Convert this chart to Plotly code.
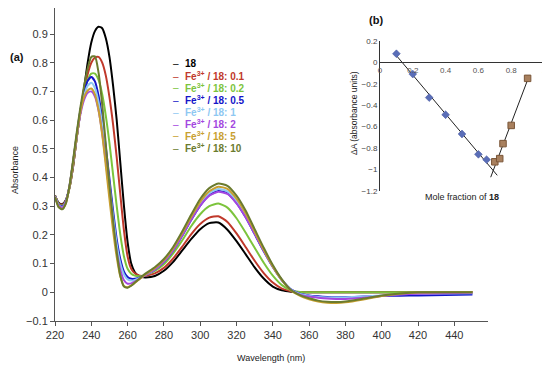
import numpy as np
import plotly.graph_objects as go

# ---------------- data: main spectra ----------------
wavelength = [220, 222, 224, 226, 228, 230, 232, 234, 236, 238, 240, 242, 244, 246, 248, 250,
              252, 254, 256, 258, 260, 262, 264, 266, 268, 270, 275, 280, 285, 290, 295, 300,
              305, 310, 315, 320, 325, 330, 335, 340, 345, 350, 355, 360, 365, 370, 375, 380,
              390, 400, 410, 420, 435, 450]

abs_18 = [0.338, 0.312, 0.307, 0.322, 0.365, 0.44, 0.54, 0.63, 0.71, 0.80, 0.87, 0.91, 0.925, 0.92, 0.885, 0.82,
          0.72, 0.60, 0.45, 0.30, 0.175, 0.10, 0.07, 0.058, 0.053, 0.052, 0.057, 0.075, 0.105, 0.145, 0.185, 0.22,
          0.241, 0.243, 0.218, 0.178, 0.133, 0.087, 0.048, 0.02, 0.007, 0.002, 0.0, 0.0, 0.0, 0.0, 0.0, 0.0,
          0.0, 0.0, 0.0, 0.0, 0.0, 0.0]
abs_01 = [0.337, 0.31, 0.305, 0.32, 0.365, 0.44, 0.54, 0.63, 0.70, 0.76, 0.80, 0.818, 0.82, 0.80, 0.755, 0.68,
          0.585, 0.47, 0.34, 0.215, 0.125, 0.082, 0.066, 0.059, 0.057, 0.058, 0.066, 0.085, 0.117, 0.158, 0.202, 0.238,
          0.26, 0.265, 0.245, 0.205, 0.158, 0.11, 0.067, 0.034, 0.013, 0.004, 0.0, 0.0, 0.0, 0.0, 0.0, 0.0,
          0.0, 0.0, 0.0, 0.0, 0.0, 0.0]
abs_02 = [0.336, 0.308, 0.302, 0.318, 0.365, 0.445, 0.54, 0.63, 0.695, 0.74, 0.762, 0.762, 0.74, 0.69, 0.615, 0.52,
          0.41, 0.30, 0.20, 0.125, 0.082, 0.065, 0.058, 0.056, 0.057, 0.061, 0.075, 0.098, 0.135, 0.18, 0.23, 0.272,
          0.30, 0.309, 0.295, 0.258, 0.208, 0.155, 0.103, 0.058, 0.025, 0.007, 0.001, 0.0, 0.0, 0.0, 0.0, 0.0,
          0.0, 0.0, 0.0, 0.0, 0.0, 0.0]
abs_05 = [0.335, 0.305, 0.299, 0.318, 0.37, 0.455, 0.55, 0.635, 0.695, 0.737, 0.75, 0.735, 0.685, 0.605, 0.505, 0.395,
          0.285, 0.185, 0.115, 0.072, 0.053, 0.047, 0.047, 0.05, 0.055, 0.061, 0.079, 0.106, 0.145, 0.196, 0.252, 0.302,
          0.338, 0.353, 0.345, 0.312, 0.262, 0.203, 0.143, 0.088, 0.042, 0.01, -0.005, -0.011, -0.014, -0.016, -0.017, -0.017,
          -0.015, -0.013, -0.012, -0.011, -0.009, -0.008]
abs_1 = [0.335, 0.304, 0.297, 0.316, 0.37, 0.455, 0.548, 0.63, 0.685, 0.72, 0.73, 0.712, 0.663, 0.585, 0.485, 0.375,
         0.265, 0.168, 0.10, 0.062, 0.045, 0.041, 0.043, 0.048, 0.054, 0.061, 0.08, 0.108, 0.148, 0.20, 0.257, 0.308,
         0.345, 0.36, 0.352, 0.318, 0.268, 0.208, 0.147, 0.09, 0.043, 0.01, -0.006, -0.012, -0.016, -0.018, -0.018, -0.018,
         -0.015, -0.011, -0.007, -0.005, -0.004, -0.003]
abs_2 = [0.334, 0.302, 0.295, 0.315, 0.37, 0.455, 0.545, 0.62, 0.67, 0.695, 0.70, 0.682, 0.633, 0.555, 0.455, 0.345,
         0.235, 0.142, 0.078, 0.042, 0.03, 0.031, 0.037, 0.045, 0.053, 0.061, 0.08, 0.107, 0.146, 0.197, 0.252, 0.302,
         0.337, 0.35, 0.343, 0.31, 0.262, 0.204, 0.145, 0.09, 0.043, 0.008, -0.008, -0.015, -0.019, -0.022, -0.023, -0.023,
         -0.019, -0.013, -0.008, -0.005, -0.003, -0.002]
abs_5 = [0.333, 0.298, 0.29, 0.31, 0.368, 0.455, 0.548, 0.628, 0.68, 0.703, 0.71, 0.69, 0.635, 0.55, 0.44, 0.325,
         0.215, 0.123, 0.055, 0.022, 0.018, 0.024, 0.033, 0.043, 0.053, 0.063, 0.084, 0.112, 0.152, 0.205, 0.262, 0.315,
         0.352, 0.368, 0.36, 0.326, 0.275, 0.212, 0.148, 0.09, 0.042, 0.006, -0.012, -0.024, -0.032, -0.036, -0.037, -0.035,
         -0.025, -0.013, -0.005, -0.001, 0.0, 0.0]
abs_10 = [0.332, 0.297, 0.289, 0.31, 0.372, 0.462, 0.558, 0.645, 0.718, 0.78, 0.82, 0.822, 0.765, 0.655, 0.515, 0.375,
          0.25, 0.14, 0.058, 0.02, 0.016, 0.023, 0.034, 0.045, 0.056, 0.066, 0.087, 0.116, 0.157, 0.211, 0.27, 0.325,
          0.363, 0.379, 0.371, 0.337, 0.285, 0.22, 0.155, 0.095, 0.045, 0.008, -0.01, -0.021, -0.029, -0.033, -0.034, -0.032,
          -0.022, -0.011, -0.004, 0.0, 0.0, 0.0]

series_labels = ["18", "Fe<sup>3+</sup> / 18: 0.1", "Fe<sup>3+</sup> / 18: 0.2", "Fe<sup>3+</sup> / 18: 0.5",
                 "Fe<sup>3+</sup> / 18: 1", "Fe<sup>3+</sup> / 18: 2", "Fe<sup>3+</sup> / 18: 5",
                 "Fe<sup>3+</sup> / 18: 10"]
series_values = [abs_18, abs_01, abs_02, abs_05, abs_1, abs_2, abs_5, abs_10]
series_colors = ["#000000", "#C0392B", "#7CC43C", "#1414C8", "#8EC8F2", "#A347E0", "#C8A030", "#6B7B2E"]

main_xticks = [220, 240, 260, 280, 300, 320, 340, 360, 380, 400, 420, 440]
main_yticks = [-0.1, 0, 0.1, 0.2, 0.3, 0.4, 0.5, 0.6, 0.7, 0.8, 0.9]

# ---------------- data: inset (Job plot) ----------------
job_x_left = [0.1, 0.2, 0.3, 0.4, 0.5, 0.6, 0.65]
job_y_left = [0.08, -0.11, -0.33, -0.49, -0.67, -0.86, -0.91]
job_x_right = [0.70, 0.73, 0.75, 0.80, 0.90]
job_y_right = [-0.93, -0.90, -0.76, -0.59, -0.15]
trend_left_x = [0.1, 0.715]
trend_right_x = [0.675, 0.9]
inset_xticks = [0, 0.2, 0.4, 0.6, 0.8, 1]
inset_yticks = [0.2, 0, -0.2, -0.4, -0.6, -0.8, -1, -1.2]

# the page body has an 8px margin, so the figure is drawn 8px in from the top-left
OFF = 8
W, H = 550 - OFF, 367 - OFF
def px(x):
    return (x - OFF) / W
def py(y):
    return 1 - (y - OFF) / H

FONT = "Liberation Sans, Arial, sans-serif"

fig = go.Figure()

for vals, col, lab in zip(series_values, series_colors, series_labels):
    fig.add_trace(go.Scatter(x=wavelength, y=vals, mode="lines", name=lab,
                             line=dict(color=col, width=2, shape="spline", smoothing=0.6),
                             xaxis="x", yaxis="y", showlegend=False, hoverinfo="skip"))

# trend lines via least squares
cl = np.polyfit(job_x_left, job_y_left, 1)
cr = np.polyfit(job_x_right, job_y_right, 1)
fig.add_trace(go.Scatter(x=trend_left_x, y=list(np.polyval(cl, trend_left_x)), mode="lines",
                         line=dict(color="#222222", width=1), xaxis="x2", yaxis="y2", showlegend=False))
fig.add_trace(go.Scatter(x=trend_right_x, y=list(np.polyval(cr, trend_right_x)), mode="lines",
                         line=dict(color="#222222", width=1), xaxis="x2", yaxis="y2", showlegend=False))
fig.add_trace(go.Scatter(x=job_x_left, y=job_y_left, mode="markers",
                         marker=dict(symbol="diamond", size=6, color="#5A6EB8",
                                     line=dict(color="#44549A", width=0.5)),
                         xaxis="x2", yaxis="y2", showlegend=False))
fig.add_trace(go.Scatter(x=job_x_right, y=job_y_right, mode="markers",
                         marker=dict(symbol="square", size=6.5, color="#A8805E",
                                     line=dict(color="#7A5638", width=1)),
                         xaxis="x2", yaxis="y2", showlegend=False))

# main y axis: 0.9 sits at 34px, -0.1 at 321px; the plot top is at the page's 8px offset
y_top_val = 0.9 + (34 - OFF) / ((321 - 34) / 1.0)

axis_col = "#555555"
fig.update_layout(
    width=W, height=H, autosize=False,
    margin=dict(l=0, r=0, t=0, b=0, autoexpand=False),
    paper_bgcolor="white", plot_bgcolor="rgba(0,0,0,0)",
    font=dict(family=FONT, color="#333333"),
    xaxis=dict(domain=[px(55), px(487.7)], range=[220, 458.4], tickvals=main_xticks,
               showgrid=False, zeroline=False, showline=True, linecolor=axis_col, linewidth=1,
               ticks="outside", ticklen=4, tickcolor=axis_col, tickfont=dict(size=11, color="#333333"),
               anchor="y", automargin=False),
    yaxis=dict(domain=[py(321), 1.0], range=[-0.1, y_top_val], tickvals=main_yticks,
               showgrid=False, zeroline=False, showline=True, linecolor=axis_col, linewidth=1,
               ticks="outside", ticklen=4, tickcolor=axis_col, tickfont=dict(size=11, color="#333333"),
               anchor="x", automargin=False),
    xaxis2=dict(domain=[px(380), px(544)], range=[0, 1], tickvals=inset_xticks,
                ticktext=["0", "0.2", "0.4", "0.6", "0.8", "1"],
                showgrid=False, zeroline=False, showline=True, linecolor="#333333", linewidth=1,
                ticks="", tickfont=dict(size=8, color="#555555"),
                anchor="free", position=py(62.3), automargin=False),
    yaxis2=dict(domain=[py(190.7), py(40.9)], range=[-1.2, 0.2], tickvals=inset_yticks,
                showgrid=False, zeroline=False, showline=True, linecolor="#333333", linewidth=1,
                ticks="", tickfont=dict(size=8, color="#444444"), anchor="x2", automargin=False),
)

ann = []
# panel labels and axis titles
ann.append(dict(x=px(17), y=py(57), text="<b>(a)</b>", font=dict(size=11, color="#111111")))
ann.append(dict(x=px(376), y=py(20), text="<b>(b)</b>", font=dict(size=11, color="#111111")))
ann.append(dict(x=px(15), y=py(170), text="Absorbance", textangle=-90, font=dict(size=9, color="#222222")))
ann.append(dict(x=px(271), y=py(358), text="Wavelength (nm)", font=dict(size=9, color="#222222")))
ann.append(dict(x=px(354), y=py(113), text="ΔA (absorbance units)", textangle=-90,
                font=dict(size=8.5, color="#222222")))
ann.append(dict(x=px(462), y=py(197), text="Mole fraction of <b>18</b>", font=dict(size=9, color="#222222")))

# legend
leg_y = [64, 76, 88, 100, 112, 124, 136, 148]
for lab, col, yy in zip(series_labels, series_colors, leg_y):
    ann.append(dict(x=px(170.5), y=py(yy), text="–", xanchor="left", font=dict(size=10, color=col)))
    ann.append(dict(x=px(183), y=py(yy), text="<b>" + lab + "</b>", xanchor="left",
                    font=dict(size=10, color=col)))

for a in ann:
    a.setdefault("xanchor", "center")
    a.update(xref="paper", yref="paper", yanchor="middle", showarrow=False)
fig.update_layout(annotations=ann)

fig.write_html("out.html")
